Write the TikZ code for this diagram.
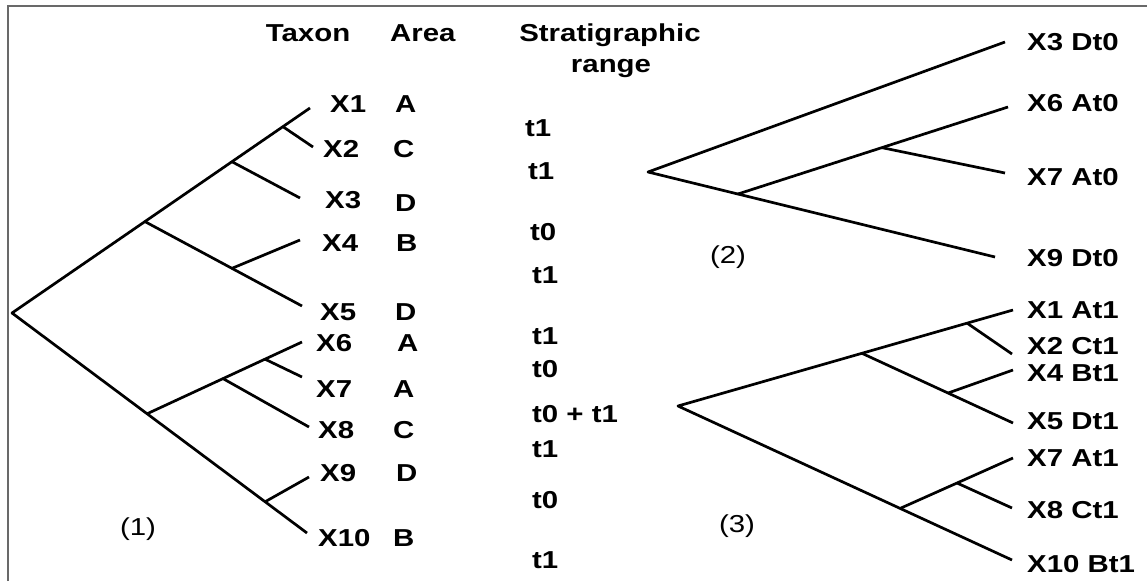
\documentclass[tikz,border=0pt]{standalone}
\usepackage{fontspec}
\usetikzlibrary{calc}
\newfontfamily\labfont{Liberation Sans}[FakeStretch=1.2]
\definecolor{framegray}{RGB}{105,105,105}
\begin{document}
\begin{tikzpicture}[x=1pt,y=-1pt,
  branch/.style={line width=2.7pt, line join=round},
  lab/.style={font=\labfont\bfseries\fontsize{24.5}{26}\selectfont, inner sep=0pt, anchor=base west},
  num/.style={font=\labfont\fontsize{24.5}{26}\selectfont, inner sep=0pt, anchor=base},
  frameline/.style={draw=framegray, line width=1.6pt}]
\useasboundingbox (0,0) rectangle (1147,581);
% frame
\coordinate (fa) at (8,581);
\coordinate (fb) at (8,6);
\coordinate (fc) at (1147,6);
\draw[frameline] (fa) -- (fb) -- (fc);

% headers
\node[lab, anchor=base] (taxon) at (308,41) {Taxon};
\node[lab] (area) at (390,41) {Area};
\node[lab, anchor=base] (strat) at (610,41) {Stratigraphic};
\node[lab, anchor=base] (range) at (611,72) {range};

% ---------- tree (1) ----------
\coordinate (r1) at (12,313);
\coordinate (p1) at (310,108);
\coordinate (p2) at (313,147);
\coordinate (p3) at (300,198);
\coordinate (p4) at (300,240);
\coordinate (p5) at (302,306);
\coordinate (p6) at (302,342);
\coordinate (p7) at (302,377);
\coordinate (p8) at (309,427);
\coordinate (p9) at (309,477);
\coordinate (p10) at (307,533);
\coordinate (na) at ($(r1)!0.446!(p1)$);
\coordinate (nb) at ($(r1)!0.738!(p1)$);
\coordinate (nc) at ($(r1)!0.909!(p1)$);
\coordinate (nd) at ($(na)!0.554!(p5)$);
\coordinate (ne) at ($(r1)!0.458!(p10)$);
\coordinate (nf) at ($(r1)!0.858!(p10)$);
\coordinate (ng) at ($(ne)!0.49!(p6)$);
\coordinate (nh) at ($(ne)!0.761!(p6)$);
\draw[branch] (p1) -- (r1) -- (p10);
\draw[branch] (nc) -- (p2);
\draw[branch] (nb) -- (p3);
\draw[branch] (na) -- (p5);
\draw[branch] (nd) -- (p4);
\draw[branch] (ne) -- (p6);
\draw[branch] (nh) -- (p7);
\draw[branch] (ng) -- (p8);
\draw[branch] (nf) -- (p9);

% taxon labels
\node[lab] (tx1) at (330,112) {X1};
\node[lab] (tx2) at (323,157) {X2};
\node[lab] (tx3) at (325,208) {X3};
\node[lab] (tx4) at (322,251) {X4};
\node[lab] (tx5) at (320,320) {X5};
\node[lab] (tx6) at (316,351) {X6};
\node[lab] (tx7) at (316,397) {X7};
\node[lab] (tx8) at (318,438) {X8};
\node[lab] (tx9) at (320,481) {X9};
\node[lab] (tx10) at (318,546) {X10};
% area labels
\node[lab] (ar1) at (395,112) {A};
\node[lab] (ar2) at (393,157) {C};
\node[lab] (ar3) at (395,211) {D};
\node[lab] (ar4) at (396,251) {B};
\node[lab] (ar5) at (395,320) {D};
\node[lab] (ar6) at (397,351) {A};
\node[lab] (ar7) at (393,397) {A};
\node[lab] (ar8) at (393,438) {C};
\node[lab] (ar9) at (396,481) {D};
\node[lab] (ar10) at (393,546) {B};
% stratigraphic range labels
\node[lab] (sr1) at (525,136) {t1};
\node[lab] (sr2) at (528,179) {t1};
\node[lab] (sr3) at (530,240) {t0};
\node[lab] (sr4) at (532,283) {t1};
\node[lab] (sr5) at (532,344) {t1};
\node[lab] (sr6) at (532,377) {t0};
\node[lab] (sr7) at (532,422) {t0 + t1};
\node[lab] (sr8) at (532,457) {t1};
\node[lab] (sr9) at (532,508) {t0};
\node[lab] (sr10) at (532,568) {t1};
\node[num] (c1) at (138,535) {(1)};

% ---------- tree (2) ----------
\coordinate (r2) at (648,172);
\coordinate (q3) at (1005,42);
\coordinate (q6) at (1008,107);
\coordinate (q7) at (1005,173);
\coordinate (q9) at (995,257);
\coordinate (mb) at ($(r2)!0.259!(q9)$);
\coordinate (mc) at ($(mb)!0.533!(q6)$);
\draw[branch] (q3) -- (r2) -- (q9);
\draw[branch] (mb) -- (q6);
\draw[branch] (mc) -- (q7);
\node[lab] (l23) at (1027,50) {X3 Dt0};
\node[lab] (l26) at (1027,111) {X6 At0};
\node[lab] (l27) at (1027,185) {X7 At0};
\node[lab] (l29) at (1027,266) {X9 Dt0};
\node[num] (c2) at (728,263) {(2)};

% ---------- tree (3) ----------
\coordinate (r3) at (678,406);
\coordinate (s1) at (1013,310);
\coordinate (s2) at (1012,354);
\coordinate (s4) at (1013,370);
\coordinate (s5) at (1013,423);
\coordinate (s7) at (1013,458);
\coordinate (s8) at (1012,508);
\coordinate (s10) at (1012,560);
\coordinate (kp) at ($(r3)!0.549!(s1)$);
\coordinate (kq) at ($(r3)!0.863!(s1)$);
\coordinate (kr) at ($(kp)!0.57!(s5)$);
\coordinate (ks) at ($(r3)!0.665!(s10)$);
\coordinate (kt) at ($(ks)!0.504!(s7)$);
\draw[branch] (s1) -- (r3) -- (s10);
\draw[branch] (kq) -- (s2);
\draw[branch] (kp) -- (s5);
\draw[branch] (kr) -- (s4);
\draw[branch] (ks) -- (s7);
\draw[branch] (kt) -- (s8);
\node[lab] (l31) at (1027,318) {X1 At1};
\node[lab] (l32) at (1027,354) {X2 Ct1};
\node[lab] (l34) at (1027,381) {X4 Bt1};
\node[lab] (l35) at (1027,429) {X5 Dt1};
\node[lab] (l37) at (1027,466) {X7 At1};
\node[lab] (l38) at (1027,518) {X8 Ct1};
\node[lab] (l310) at (1027,572) {X10 Bt1};
\node[num] (c3) at (737,532) {(3)};
\end{tikzpicture}
\end{document}
